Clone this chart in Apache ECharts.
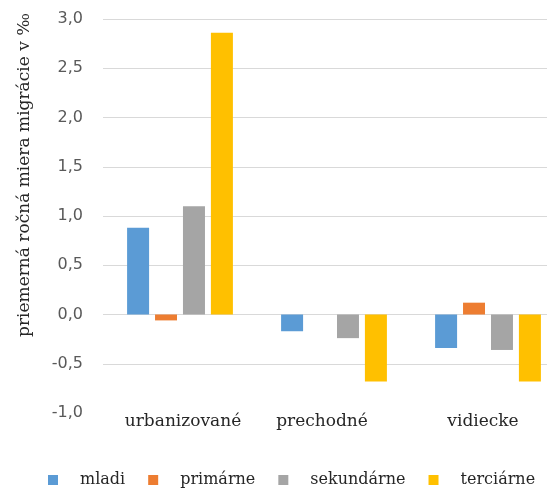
<!DOCTYPE html>
<html>
<head>
<meta charset="utf-8">
<script src="https://cdn.jsdelivr.net/npm/echarts@6/dist/echarts.min.js"></script>
<style>
  html, body { margin: 0; padding: 0; background: #fff; overflow: hidden; }
  /* the plot runs a little past the right edge of the page */
  #chart { width: 565px; height: 490px; }
</style>
</head>
<body>
<div id="chart"></div>
<script>
// Regions and the four migration groups (average yearly rate, per mille)
const categories = ['urbanizované', 'prechodné', 'vidiecke'];
const seriesNames = ['mladi', 'primárne', 'sekundárne', 'terciárne'];
const mladi = [0.88, -0.17, -0.34];
const primarne = [-0.06, 0.0, 0.12];
const sekundarne = [1.10, -0.24, -0.36];
const terciarne = [2.86, -0.68, -0.68];
const colors = ['#5b9bd5', '#ed7d31', '#a5a5a5', '#ffc000'];
const yTicks = { min: -1, max: 3, interval: 0.5 };
const axisTitle = 'priemerná ročná miera migrácie v ‰';

const values = [mladi, primarne, sekundarne, terciarne];
const serif = '"DejaVu Serif", "Liberation Serif", serif';

// small horizontal nudges of the category labels (px, + = right)
const labelShift = [3, -12, -5];

// first split line (at the minimum) stays hidden, the rest are light grey
const tickCount = Math.round((yTicks.max - yTicks.min) / yTicks.interval) + 1;
const gridColors = [];
for (let i = 0; i < tickCount; i++) gridColors.push(i === 0 ? 'rgba(0,0,0,0)' : '#d9d9d9');

const categoryData = categories.map((c, i) => {
  const s = labelShift[i];
  return { value: c, textStyle: { padding: s >= 0 ? [0, 0, 0, 2 * s] : [0, -2 * s, 0, 0] } };
});

const chart = echarts.init(document.getElementById('chart'), null, { renderer: 'canvas' });
chart.setOption({
  animation: false,
  color: colors,
  grid: { left: 103, top: 19, right: 0, height: 394, containLabel: false },
  legend: {
    left: 43, top: 467,
    itemWidth: 10, itemHeight: 10, itemGap: 23,
    icon: 'rect',
    data: seriesNames,
    textStyle: { fontFamily: serif, fontSize: 16, color: '#262626', padding: [0, 0, 0, 17] }
  },
  xAxis: {
    type: 'category',
    data: categoryData,
    position: 'bottom',
    axisLine: { show: false, onZero: false },
    axisTick: { show: false },
    axisLabel: { fontFamily: serif, fontSize: 17, color: '#262626', margin: 0, verticalAlign: 'top' }
  },
  yAxis: {
    type: 'value',
    min: yTicks.min, max: yTicks.max, interval: yTicks.interval,
    axisLine: { show: false },
    axisTick: { show: false },
    splitLine: { show: true, lineStyle: { color: gridColors, width: 1 } },
    axisLabel: {
      margin: 20, fontFamily: '"DejaVu Sans", sans-serif', fontSize: 16, color: '#595959',
      formatter: v => v.toFixed(1).replace('.', ',')
    }
  },
  graphic: [{
    type: 'text',
    x: 25, y: 175,
    rotation: Math.PI / 2,
    style: {
      text: axisTitle, fontFamily: serif, fontSize: 17, fill: '#262626',
      textAlign: 'center', textVerticalAlign: 'middle'
    }
  }],
  series: seriesNames.map((name, i) => ({
    name, type: 'bar', data: values[i],
    barWidth: 22, barGap: '27%',
    itemStyle: { color: colors[i] }
  }))
});
</script>
</body>
</html>
